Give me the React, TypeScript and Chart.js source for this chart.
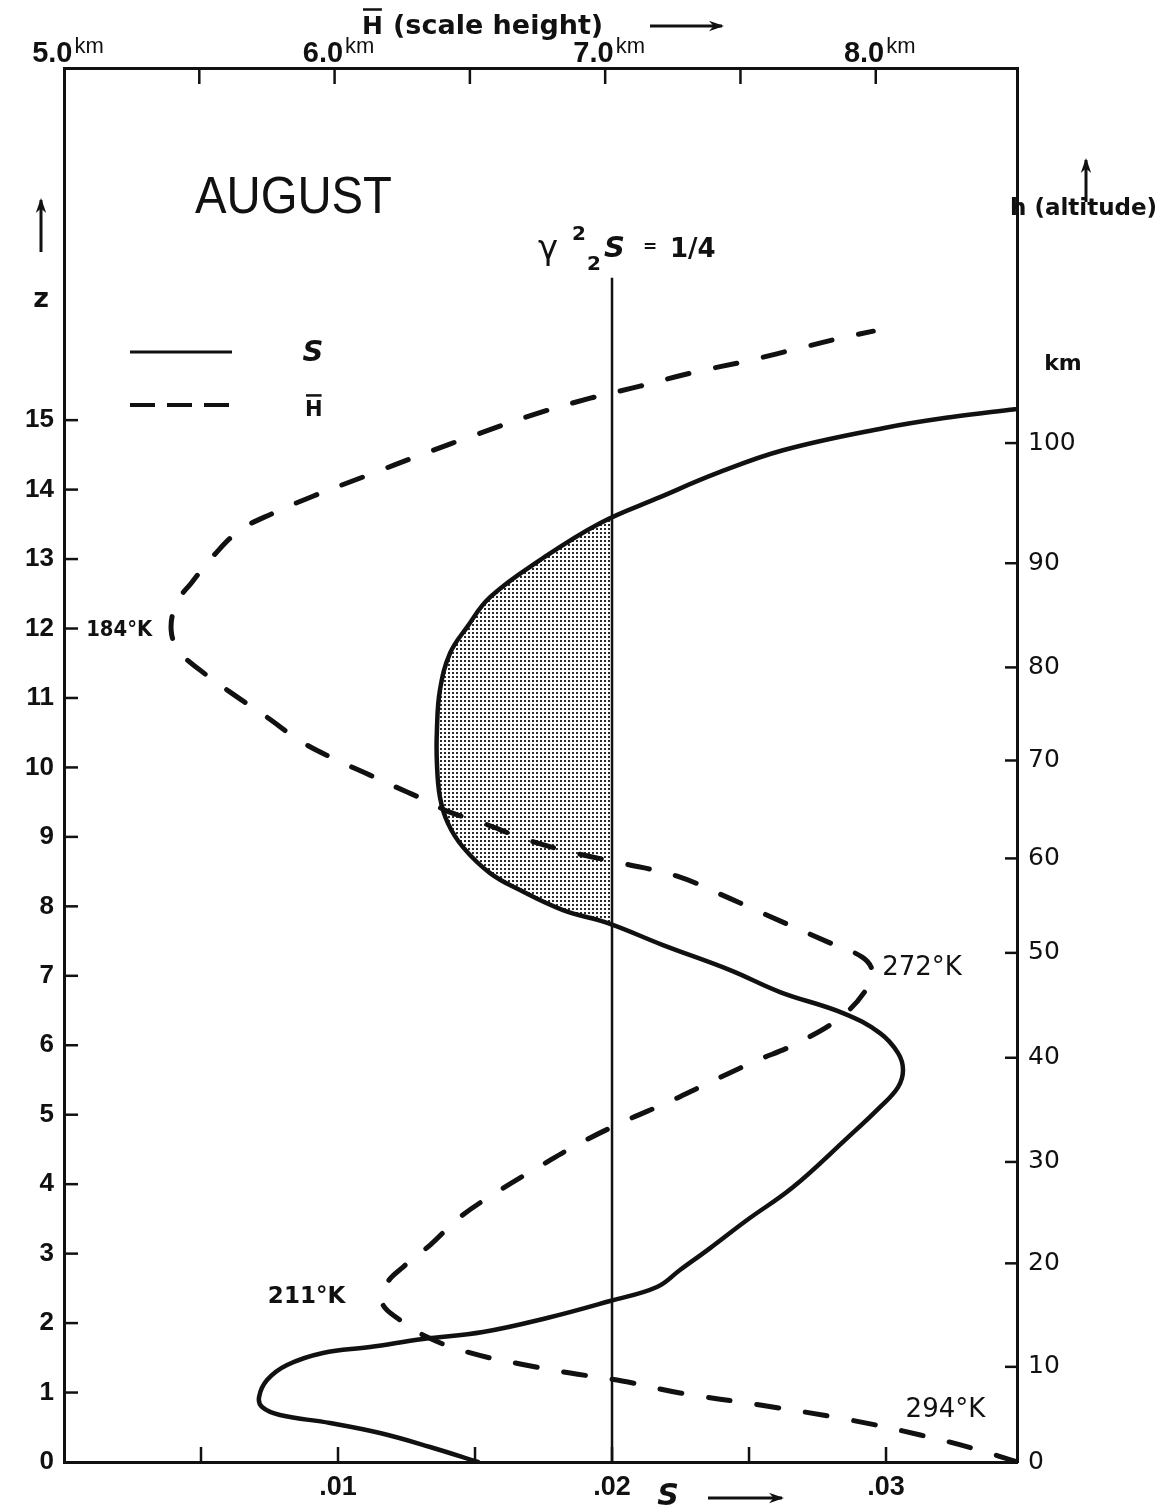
import React, { useEffect, useRef } from 'react';
import { Chart, registerables } from 'chart.js';

Chart.register(...registerables);

// Static stability S against reduced height z (August profile)
const sValues = [
  0.01511, 0.01336, 0.01153, 0.00971, 0.00788, 0.00723, 0.00712, 0.00741, 0.00814, 0.00945,
  0.01117, 0.0131, 0.01529, 0.01763, 0.01993, 0.02164, 0.02248, 0.02358, 0.02493, 0.02661,
  0.02858, 0.02978, 0.03044, 0.03062, 0.03044, 0.02978, 0.02843, 0.02613, 0.02431, 0.02186,
  0.01985, 0.01821, 0.01664, 0.01555, 0.01456, 0.01401, 0.01372, 0.01361, 0.01361, 0.01372,
  0.01409, 0.01471, 0.01555, 0.01737, 0.01956, 0.02175, 0.02383, 0.02624, 0.02989, 0.03234,
  0.03471,
];
const sZ = [
  0, 0.216, 0.417, 0.561, 0.677, 0.792, 0.936, 1.18, 1.396, 1.569,
  1.655, 1.771, 1.871, 2.073, 2.318, 2.519, 2.764, 3.08, 3.484, 3.959,
  4.664, 5.11, 5.398, 5.643, 5.887, 6.175, 6.463, 6.766, 7.082, 7.442,
  7.759, 7.946, 8.234, 8.478, 8.853, 9.198, 9.573, 10.062, 10.537, 11.113,
  11.645, 12.02, 12.451, 12.984, 13.517, 13.891, 14.236, 14.567, 14.884, 15.042,
  15.158,
];

// Mean scale height H̄ (km) against z
const hBarValues = [
  8.523, 8.368, 8.165, 7.906, 7.573, 7.277, 7.063, 6.871, 6.686, 6.49,
  6.342, 6.242, 6.176, 6.194, 6.253, 6.353, 6.464, 6.612, 6.76, 6.908,
  7.081, 7.226, 7.381, 7.547, 7.71, 7.88, 7.98, 7.987, 7.95, 7.824,
  7.573, 7.425, 7.266, 7.078, 6.889, 6.704, 6.549, 6.416, 6.353, 6.268,
  6.131, 6.009, 5.88, 5.75, 5.614, 5.503, 5.429, 5.396, 5.418, 5.473,
  5.551, 5.651, 5.773, 5.92, 6.113, 6.335, 6.527, 6.741, 6.945, 7.129,
  7.314, 7.536, 7.732, 7.869, 7.991,
];
const hBarZ = [
  0, 0.187, 0.389, 0.605, 0.82, 0.993, 1.166, 1.281, 1.411, 1.583,
  1.799, 2.044, 2.289, 2.577, 2.807, 3.124, 3.527, 3.915, 4.261, 4.592,
  4.923, 5.168, 5.456, 5.758, 6.031, 6.434, 6.895, 7.082, 7.269, 7.485,
  7.917, 8.176, 8.435, 8.608, 8.766, 8.968, 9.198, 9.371, 9.501, 9.645,
  9.889, 10.105, 10.364, 10.724, 11.084, 11.401, 11.66, 11.976, 12.379, 12.667,
  13.042, 13.416, 13.661, 13.905, 14.193, 14.524, 14.798, 15.086, 15.316, 15.489,
  15.676, 15.863, 16.05, 16.18, 16.281,
];

// Critical line γ²₂S = 1/4
const criticalS = 0.02;
const criticalZTop = 17.05;

// Axis ticks
const zTicks = [0, 1, 2, 3, 4, 5, 6, 7, 8, 9, 10, 11, 12, 13, 14, 15];
const sTicks = [0.005, 0.01, 0.015, 0.02, 0.025, 0.03];
const sTickLabels = ['', '.01', '', '.02', '', '.03'];
const hBarTicks = [5.0, 5.5, 6.0, 6.5, 7.0, 7.5, 8.0];
const hBarTickLabels = ['5.0', '', '6.0', '', '7.0', '', '8.0'];
const altitudeZ = [0, 1.37, 2.86, 4.32, 5.82, 7.33, 8.69, 10.1, 11.44, 12.94, 14.67];
const altitudeLabels = ['0', '10', '20', '30', '40', '50', '60', '70', '80', '90', '100'];

// Temperatures at the turning points of H̄
const temperatureLabels = ['294°K', '211°K', '272°K', '184°K'];

const Z_MAX = 20.07;
const S_MAX = 0.03478;
const HBAR_MIN = 5.0;
const HBAR_MAX = 8.522;

const INK = '#111';
const SANS = '"Liberation Sans", "DejaVu Sans", sans-serif';
const DEJAVU = '"DejaVu Sans", sans-serif';

function extremeIndex(values: number[], zs: number[], lo: number, hi: number, pick: 'min' | 'max') {
  let best = -1;
  for (let i = 0; i < values.length; i++) {
    if (zs[i] < lo || zs[i] > hi) continue;
    if (best < 0 || (pick === 'min' ? values[i] < values[best] : values[i] > values[best])) best = i;
  }
  return best;
}

const temperatureAnchors = [
  0,
  extremeIndex(hBarValues, hBarZ, 1, 4, 'min'),
  extremeIndex(hBarValues, hBarZ, 5, 9, 'max'),
  extremeIndex(hBarValues, hBarZ, 10, 14, 'min'),
];

let dotPattern: CanvasPattern | null = null;
function getDots(ctx: CanvasRenderingContext2D) {
  if (!dotPattern) {
    const c = document.createElement('canvas');
    c.width = 4;
    c.height = 4;
    const g = c.getContext('2d')!;
    g.fillStyle = '#2a2a2a';
    g.fillRect(0, 0, 2, 2);
    dotPattern = ctx.createPattern(c, 'repeat');
  }
  return dotPattern;
}

function put(
  ctx: CanvasRenderingContext2D,
  str: string,
  x: number,
  y: number,
  font: string,
  align: CanvasTextAlign = 'left',
  baseline: CanvasTextBaseline = 'alphabetic',
  maxWidth?: number,
) {
  ctx.font = font;
  ctx.textAlign = align;
  ctx.textBaseline = baseline;
  ctx.fillStyle = INK;
  if (maxWidth) ctx.fillText(str, x, y, maxWidth);
  else ctx.fillText(str, x, y);
}

function seg(ctx: CanvasRenderingContext2D, x1: number, y1: number, x2: number, y2: number, w: number) {
  ctx.beginPath();
  ctx.lineWidth = w;
  ctx.strokeStyle = INK;
  ctx.moveTo(x1, y1);
  ctx.lineTo(x2, y2);
  ctx.stroke();
}

function arrow(ctx: CanvasRenderingContext2D, x1: number, y1: number, x2: number, y2: number) {
  seg(ctx, x1, y1, x2, y2, 3);
  const ang = Math.atan2(y2 - y1, x2 - x1);
  const len = 14;
  ctx.beginPath();
  ctx.fillStyle = INK;
  ctx.moveTo(x2 + 2 * Math.cos(ang), y2 + 2 * Math.sin(ang));
  ctx.lineTo(x2 - len * Math.cos(ang - 0.38), y2 - len * Math.sin(ang - 0.38));
  ctx.lineTo(x2 - len * 0.6 * Math.cos(ang), y2 - len * 0.6 * Math.sin(ang));
  ctx.lineTo(x2 - len * Math.cos(ang + 0.38), y2 - len * Math.sin(ang + 0.38));
  ctx.closePath();
  ctx.fill();
}

function hBarGlyph(ctx: CanvasRenderingContext2D, x: number, baseline: number, size: number) {
  put(ctx, 'H', x, baseline, `bold ${size}px ${DEJAVU}`);
  const w = ctx.measureText('H').width;
  seg(ctx, x + 1, baseline - size * 0.98, x + w - 1, baseline - size * 0.98, 2.5);
}

const decorations = {
  id: 'decorations',
  beforeDatasetsDraw(chart: any) {
    // stippled region where S < 1/(4γ²₂) in the upper loop
    const { ctx, chartArea: a, scales } = chart;
    const meta = chart.getDatasetMeta(0);
    const line = meta.dataset;
    if (line && line.updateControlPoints) line.updateControlPoints(a, meta.iScale.axis);
    const pts = meta.data;
    const bulge = sValues.map((_, i) => i).filter((i) => sValues[i] < criticalS && sZ[i] > 7 && sZ[i] < 14);
    if (!bulge.length) return;
    const i0 = bulge[0] - 1;
    const i1 = bulge[bulge.length - 1] + 1;
    const xc = scales.x.getPixelForValue(criticalS);
    ctx.save();
    ctx.beginPath();
    ctx.rect(a.left, a.top, xc - a.left, a.bottom - a.top);
    ctx.clip();
    ctx.beginPath();
    ctx.moveTo(pts[i0].x, pts[i0].y);
    for (let i = i0 + 1; i <= i1; i++) {
      const p = pts[i - 1];
      const q = pts[i];
      const c1x = p.cp2x ?? p.x, c1y = p.cp2y ?? p.y;
      const c2x = q.cp1x ?? q.x, c2y = q.cp1y ?? q.y;
      ctx.bezierCurveTo(c1x, c1y, c2x, c2y, q.x, q.y);
    }
    ctx.closePath();
    ctx.fillStyle = getDots(ctx);
    ctx.fill();
    ctx.restore();
  },
  afterDraw(chart: any) {
    const { ctx, chartArea: a, scales } = chart;
    const { x, x2, y, yR } = scales;
    ctx.save();
    ctx.lineCap = 'butt';

    // inward tick marks
    zTicks.forEach((v) => { const p = y.getPixelForValue(v); if (v > 0) seg(ctx, a.left, p, a.left + 14, p, 2.5); });
    altitudeZ.forEach((v) => { const p = yR.getPixelForValue(v); if (v > 0) seg(ctx, a.right, p, a.right - 12, p, 2.5); });
    sTicks.forEach((v) => { const p = x.getPixelForValue(v); seg(ctx, p, a.bottom, p, a.bottom - 15, 2.5); });
    hBarTicks.forEach((v) => { if (v > HBAR_MIN) { const p = x2.getPixelForValue(v); seg(ctx, p, a.top, p, a.top + 16, 2.5); } });

    // top tick labels with km units
    hBarTicks.forEach((v, i) => {
      const label = hBarTickLabels[i];
      if (!label) return;
      const p = x2.getPixelForValue(v);
      ctx.font = `bold 29px ${SANS}`;
      const wn = ctx.measureText(label).width;
      ctx.font = `22px ${SANS}`;
      const wk = ctx.measureText('km').width;
      const start = p - (wn + 2 + wk) / 2 + 4;
      put(ctx, label, start, 62, `bold 29px ${SANS}`);
      put(ctx, 'km', start + wn + 2, 53, `22px ${SANS}`);
    });

    // top axis title
    hBarGlyph(ctx, 362, 34, 25);
    put(ctx, '(scale height)', 393, 34, `bold 27px ${DEJAVU}`, 'left', 'alphabetic', 220);
    arrow(ctx, 650, 26, 722, 26);

    // month
    put(ctx, 'AUGUST', 195, 213, `52px ${SANS}`, 'left', 'alphabetic', 197);

    // left axis variable
    arrow(ctx, 41, 252, 41, 200);
    put(ctx, 'z', 41, 300, `bold 27px ${DEJAVU}`, 'center', 'middle');

    // right axis variable
    arrow(ctx, 1086, 202, 1086, 160);
    put(ctx, 'h (altitude)', 1010, 215, `bold 23px ${DEJAVU}`, 'left', 'alphabetic', 152);
    put(ctx, 'km', 1063, 364, `bold 22px ${DEJAVU}`, 'center', 'middle');

    // bottom axis variable
    put(ctx, 'S', 668, 1497, `italic bold 30px ${DEJAVU}`, 'center', 'middle');
    arrow(ctx, 708, 1498, 782, 1498);

    // critical line label
    const xc = x.getPixelForValue(criticalS);
    put(ctx, 'γ', xc - 74, 259, `34px ${DEJAVU}`);
    put(ctx, '2', xc - 40, 240, `bold 20px ${DEJAVU}`);
    put(ctx, '2', xc - 25, 270, `bold 20px ${DEJAVU}`);
    put(ctx, 'S', xc - 8, 257, `italic bold 29px ${DEJAVU}`);
    put(ctx, '=', xc + 31, 252, `bold 17px ${DEJAVU}`);
    put(ctx, '1/4', xc + 58, 257, `bold 26px ${DEJAVU}`);

    // legend
    seg(ctx, 130, 352, 232, 352, 3);
    put(ctx, 'S', 313, 353, `italic bold 29px ${DEJAVU}`, 'center', 'middle');
    ctx.setLineDash([25, 12]);
    seg(ctx, 130, 405, 232, 405, 4);
    ctx.setLineDash([]);
    hBarGlyph(ctx, 305, 416, 21);

    // temperatures at turning points
    const tFonts = [`26px ${DEJAVU}`, `bold 23px ${DEJAVU}`, `26px ${DEJAVU}`, `bold 21px ${DEJAVU}`];
    const tOffsets: [number, number, CanvasTextAlign][] = [[-32, -52, 'right'], [-37, -6, 'right'], [10, -2, 'left'], [-19, 0, 'right']];
    temperatureLabels.forEach((t, k) => {
      const idx = temperatureAnchors[k];
      const px = x2.getPixelForValue(hBarValues[idx]);
      const py = y.getPixelForValue(hBarZ[idx]);
      const [dx, dy, al] = tOffsets[k];
      put(ctx, t, px + dx, py + dy, tFonts[k], al, 'middle', k === 3 ? 66 : undefined);
    });

    ctx.restore();
  },
};

export default function App() {
  const canvasRef = useRef<HTMLCanvasElement>(null);

  useEffect(() => {
    const canvas = canvasRef.current;
    if (!canvas) return;
    const sPoints = sValues.map((s, i) => ({ x: s, y: sZ[i] }));
    const hPoints = hBarValues.map((h, i) => ({ x: h, y: hBarZ[i] }));
    const critical = [{ x: criticalS, y: 0 }, { x: criticalS, y: criticalZTop }];

    const axisBorder = { display: true, width: 3, color: INK };
    const noGrid = { display: false, drawTicks: false };

    const chart = new Chart(canvas, {
      type: 'line',
      data: {
        datasets: [
          {
            label: 'S',
            data: sPoints,
            xAxisID: 'x',
            yAxisID: 'y',
            borderColor: INK,
            borderWidth: 4.5,
            tension: 0.4,
            pointRadius: 0,
            fill: false,
            borderCapStyle: 'round',
            borderJoinStyle: 'round',
          },
          {
            label: 'H̄',
            data: hPoints,
            xAxisID: 'x2',
            yAxisID: 'y',
            borderColor: INK,
            borderWidth: 5,
            borderDash: [22, 27],
            borderCapStyle: 'round',
            tension: 0.4,
            pointRadius: 0,
            fill: false,
          },
          {
            label: 'γ²₂S = 1/4',
            data: critical,
            xAxisID: 'x',
            yAxisID: 'y',
            borderColor: INK,
            borderWidth: 2.5,
            pointRadius: 0,
            fill: false,
          },
        ],
      },
      options: {
        animation: false,
        responsive: false,
        devicePixelRatio: 1,
        layout: { padding: 0 },
        plugins: { legend: { display: false }, tooltip: { enabled: false }, title: { display: false } },
        events: [],
        scales: {
          x: {
            type: 'linear',
            position: 'bottom',
            min: 0,
            max: S_MAX,
            afterBuildTicks: (s: any) => { s.ticks = sTicks.map((v) => ({ value: v })); },
            afterFit: (s: any) => { s.height = 50; },
            ticks: {
              autoSkip: false,
              maxRotation: 0,
              padding: 9,
              color: INK,
              font: { family: SANS, size: 27, weight: 'bold' },
              callback: (_v: any, i: number) => sTickLabels[i],
            },
            grid: noGrid,
            border: axisBorder,
          },
          x2: {
            type: 'linear',
            position: 'top',
            min: HBAR_MIN,
            max: HBAR_MAX,
            afterBuildTicks: (s: any) => { s.ticks = hBarTicks.map((v) => ({ value: v })); },
            afterFit: (s: any) => { s.height = 68; },
            ticks: { display: false },
            grid: noGrid,
            border: axisBorder,
          },
          y: {
            type: 'linear',
            position: 'left',
            min: 0,
            max: Z_MAX,
            afterBuildTicks: (s: any) => { s.ticks = zTicks.map((v) => ({ value: v })); },
            afterFit: (s: any) => { s.width = 64; },
            ticks: {
              autoSkip: false,
              padding: 10,
              color: INK,
              font: { family: SANS, size: 26, weight: 'bold' },
              callback: (v: any) => String(v),
            },
            grid: noGrid,
            border: axisBorder,
          },
          yR: {
            type: 'linear',
            position: 'right',
            min: 0,
            max: Z_MAX,
            afterBuildTicks: (s: any) => { s.ticks = altitudeZ.map((v) => ({ value: v })); },
            afterFit: (s: any) => { s.width = 153; },
            ticks: {
              autoSkip: false,
              padding: 11,
              color: INK,
              font: { family: DEJAVU, size: 25 },
              callback: (_v: any, i: number) => altitudeLabels[i],
            },
            grid: noGrid,
            border: axisBorder,
          },
        },
      } as any,
      plugins: [decorations],
    });

    return () => chart.destroy();
  }, []);

  return (
    <div style={{ position: 'absolute', left: 0, top: 0, width: 1170, height: 1512, background: '#fff' }}>
      <canvas ref={canvasRef} width={1170} height={1512} style={{ display: 'block', width: 1170, height: 1512 }} />
    </div>
  );
}
